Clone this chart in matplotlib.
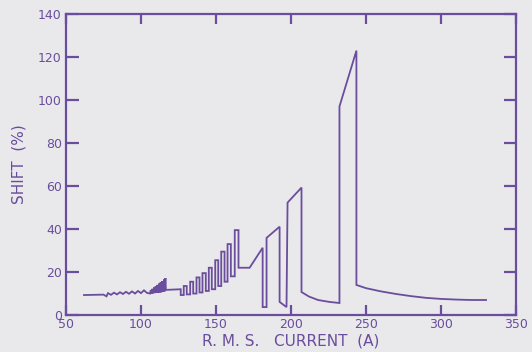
import matplotlib
matplotlib.use("Agg")
import matplotlib.pyplot as plt

# readings: r.m.s. current (A) vs shift (%)
current = [
    62, 75, 77, 78, 80, 82, 84, 86, 88, 90, 92, 94, 96, 98, 100, 102, 104,
    106, 106.5, 107, 107.6, 108.1, 108.7, 109.2, 109.8, 110.3, 110.9, 111.4,
    112.0, 112.5, 113.1, 113.6, 114.2, 114.7, 115.3, 115.8, 116.3, 116.6,
    126.5,
    126.5, 128.5, 128.5, 130.5, 130.5,
    132.8, 132.8, 134.8, 134.8,
    137.0, 137.0, 139.0, 139.0,
    141.0, 141.0, 143.2, 143.2,
    145.2, 145.2, 147.2, 147.2,
    149.5, 149.5, 151.5, 151.5,
    153.5, 153.5, 155.7, 155.7,
    157.7, 157.7, 159.9, 159.9,
    162.5, 162.5, 165.0, 165.0,
    172.4, 181.1, 181.1, 183.7, 183.7, 192.4,
    192.4, 197.0, 197.7, 207.0, 207.0, 212, 218, 225.6, 232.3,
    232.3, 243.6, 243.6, 250, 260, 270, 280, 290, 300, 310, 320, 330,
]
shift = [
    9.3, 9.5, 8.7, 10.2, 9.4, 10.4, 9.6, 10.6, 9.8, 10.8, 9.9, 11.0, 10.0, 11.2, 10.2, 11.5, 10.3,
    10.0, 11.6, 10.0, 12.2, 10.1, 12.8, 10.2, 13.4, 10.3, 14.0, 10.4,
    14.6, 10.5, 15.2, 10.6, 15.8, 10.8, 16.5, 11.0, 17.2, 11.7,
    12.0,
    9.3, 9.3, 13.5, 13.5, 9.6,
    9.6, 15.5, 15.5, 10.0,
    10.0, 17.5, 17.5, 10.5,
    10.5, 19.5, 19.5, 11.2,
    11.2, 22.0, 22.0, 12.0,
    12.0, 25.5, 25.5, 13.5,
    13.5, 29.5, 29.5, 15.5,
    15.5, 33.0, 33.0, 18.0,
    18.0, 39.5, 39.5, 22.0,
    22.0, 31.3, 3.7, 3.7, 35.9, 41.1,
    6.1, 3.7, 52.3, 59.3, 10.7, 8.6, 7.0, 6.1, 5.6,
    97.0, 123.0, 14.0, 12.5, 11.0, 9.8, 8.8, 8.0, 7.5, 7.2, 7.0, 7.0,
]

x_ticks = [50, 100, 150, 200, 250, 300, 350]
y_ticks = [0, 20, 40, 60, 80, 100, 120, 140]

ink = "#6a4d9c"
paper = "#e9e9ec"

plt.rcParams["font.family"] = ["DejaVu Sans"]

fig = plt.figure(figsize=(5.32, 3.52), dpi=100, facecolor=paper)
ax = fig.add_axes([0.124, 0.105, 0.846, 0.855], facecolor=paper)

ax.plot(current, shift, color=ink, linewidth=1.3, solid_joinstyle="miter")

ax.set_xlim(50, 350)
ax.set_ylim(0, 140)
ax.set_xticks(x_ticks)
ax.set_yticks(y_ticks)

for side in ax.spines.values():
    side.set_color(ink)
    side.set_linewidth(1.6)

ax.tick_params(axis="both", direction="in", color=ink, labelcolor=ink,
               width=1.6, labelsize=9, top=True, right=True)
ax.tick_params(axis="y", length=9, pad=3)
ax.tick_params(axis="x", length=7, pad=2)

ax.set_xlabel("R. M. S.   CURRENT  (A)", color=ink, fontsize=11, labelpad=2)
ax.set_ylabel("SHIFT  (%)", color=ink, fontsize=11, labelpad=8)

fig.savefig("out.png", dpi=100, facecolor=paper)
